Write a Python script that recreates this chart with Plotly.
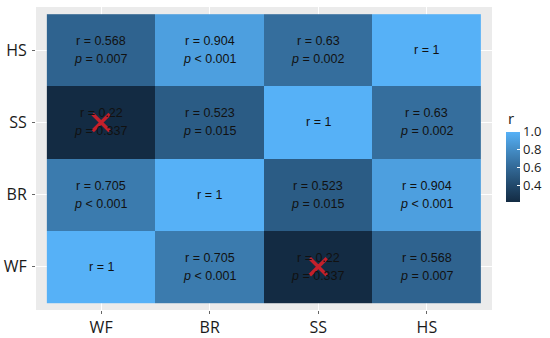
import plotly.graph_objects as go

x_labels = ["WF", "BR", "SS", "HS"]
y_labels = ["WF", "BR", "SS", "HS"]  # bottom to top

# r values, rows follow y_labels (bottom to top)
r_values = [
    [1, 0.705, 0.22, 0.568],    # WF
    [0.705, 1, 0.523, 0.904],   # BR
    [0.22, 0.523, 1, 0.63],     # SS
    [0.568, 0.904, 0.63, 1],    # HS
]
r_text = [
    ["r = 1", "r = 0.705", "r = 0.22", "r = 0.568"],
    ["r = 0.705", "r = 1", "r = 0.523", "r = 0.904"],
    ["r = 0.22", "r = 0.523", "r = 1", "r = 0.63"],
    ["r = 0.568", "r = 0.904", "r = 0.63", "r = 1"],
]
p_text = [
    ["", "< 0.001", "= 0.337", "= 0.007"],
    ["< 0.001", "", "= 0.015", "< 0.001"],
    ["= 0.337", "= 0.015", "", "= 0.002"],
    ["= 0.007", "< 0.001", "= 0.002", ""],
]
# non-significant cells marked with red X
x_marks = ["SS", "WF"]
y_marks = ["WF", "SS"]

colorscale = [
    [0.0, "#132B43"],
    [0.25, "#224A6D"],
    [0.5, "#336A98"],
    [0.75, "#448DC6"],
    [1.0, "#56B1F7"],
]

W, H = 550, 338
ML, MR, MT, MB = 36, 58, 7, 28

fig = go.Figure()
fig.add_trace(go.Heatmap(
    z=r_values, x=x_labels, y=y_labels,
    colorscale=colorscale, zmin=0.22, zmax=1.0,
    hoverinfo="skip",
    colorbar=dict(
        xref="container", yref="container",
        x=506 / W, xanchor="left",
        y=1 - 147 / H, yanchor="top",
        lenmode="pixels", len=70,
        thickness=14, thicknessmode="pixels",
        xpad=0, ypad=0,
        outlinewidth=0,
        ticks="inside", ticklen=3, tickcolor="white", tickwidth=1,
        tickvals=[0.4, 0.6, 0.8, 1.0], ticktext=["0.4", "0.6", "0.8", "1.0"],
        tickfont=dict(family="Open Sans", size=13, color="#1a1a1a"),
    ),
))

fig.add_trace(go.Scatter(
    x=x_marks, y=y_marks, mode="markers",
    marker=dict(symbol="x-thin", size=17, line=dict(color="#C4202B", width=3.5)),
    hoverinfo="skip", showlegend=False,
))

annotations = []
for i, yl in enumerate(y_labels):
    for j, xl in enumerate(x_labels):
        if p_text[i][j]:
            annotations.append(dict(x=xl, y=yl, text=r_text[i][j], showarrow=False, yshift=9,
                                    font=dict(family="Liberation Sans", size=12.5, color="#111111")))
            annotations.append(dict(x=xl, y=yl, text="<i>p</i> " + p_text[i][j], showarrow=False, yshift=-9,
                                    font=dict(family="Liberation Sans", size=12.5, color="#111111")))
        else:
            annotations.append(dict(x=xl, y=yl, text=r_text[i][j], showarrow=False,
                                    font=dict(family="Liberation Sans", size=12.5, color="#111111")))

# legend title "r"
pw = W - ML - MR
ph = H - MT - MB
annotations.append(dict(
    xref="paper", yref="paper",
    x=(506 - ML) / pw, y=(H - MB - 118) / ph,
    xanchor="left", yanchor="middle",
    text="r", showarrow=False,
    font=dict(family="Open Sans", size=15, color="#1a1a1a"),
))

axis_common = dict(
    showgrid=True, gridcolor="white", gridwidth=1,
    zeroline=False, showline=False,
    ticks="outside", ticklen=3, tickcolor="#666666", tickwidth=1,
    tickfont=dict(family="Open Sans", size=16, color="#1a1a1a"),
    range=[-0.6, 3.6], fixedrange=True,
)

fig.update_layout(
    width=W, height=H,
    margin=dict(l=ML, r=MR, t=MT, b=MB, autoexpand=False),
    paper_bgcolor="white", plot_bgcolor="#EBEBEB",
    xaxis=dict(axis_common, type="category", categoryorder="array", categoryarray=x_labels),
    yaxis=dict(axis_common, type="category", categoryorder="array", categoryarray=y_labels, ticklabelstandoff=2),
    annotations=annotations,
    showlegend=False,
)

fig.write_html("out.html", config={"displayModeBar": False},
               post_script="document.body.style.margin='0';document.body.style.overflow='hidden';")
